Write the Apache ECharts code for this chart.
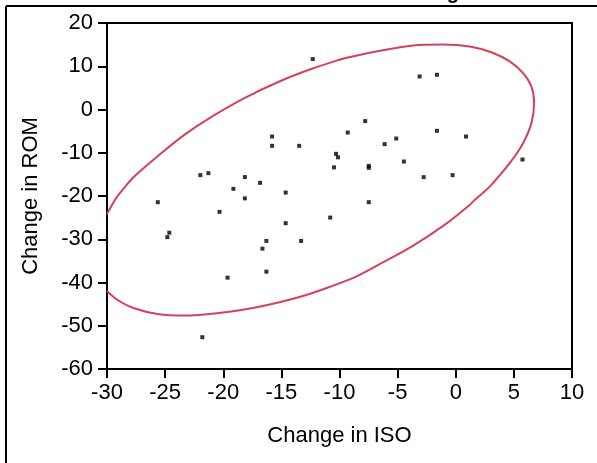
<!DOCTYPE html>
<html>
<head>
<meta charset="utf-8">
<script src="https://cdn.jsdelivr.net/npm/echarts@6/dist/echarts.min.js"></script>
<style>
html,body{margin:0;padding:0;background:#fff;}
#chart{width:597px;height:463px;}
</style>
</head>
<body>
<div id="chart"></div>
<script>
// Scatter points
var isoChange = [-12.30, -3.11, -1.62, -7.79, -9.29, -1.62, 0.88, -5.12, -6.12, -15.80,
  -15.80, -13.47, -10.30, -10.13, -10.47, -7.48, -7.48, -4.46, -2.76, -0.27,
  5.74, -7.48, -21.97, -21.28, -18.14, -16.83, -19.13, -14.63, -18.14, -25.63,
  -20.32, -14.63, -10.80, -24.64, -24.81, -16.29, -13.30, -16.63, -16.29, -19.63,
  -21.80];
var romChange = [11.66, 7.64, 8.03, -2.68, -5.32, -4.93, -6.25, -6.71, -8.01, -6.25,
  -8.40, -8.40, -10.25, -11.06, -13.38, -13.03, -13.49, -12.03, -15.64, -15.18,
  -11.57, -21.43, -15.18, -14.72, -15.62, -16.96, -18.35, -19.21, -20.55, -21.43,
  -23.67, -26.29, -24.99, -28.49, -29.51, -30.39, -30.39, -32.17, -37.49, -38.88,
  -52.65];

// Density ellipse outline (clockwise from left edge)
var ellipseIso = [-30.0, -29.23, -28.66, -27.66, -25.50, -23.35, -21.05, -18.18, -15.17, -12.44,
  -10.0, -9.28, -6.41, -3.69, -1.10, 1.20, 3.12, 4.64, 5.79, 6.51,
  6.74, 6.51, 5.79, 4.64, 3.20, 2.64, 1.63, 1.20, -0.96, -3.69,
  -6.27, -8.71, -10.86, -13.01, -15.17, -17.32, -19.47, -21.63, -23.20, -25.65,
  -27.66, -29.10, -30.0];
var ellipseRom = [-24.14, -20.55, -18.58, -15.51, -10.48, -5.86, -1.76, 2.64, 6.48, 9.35,
  11.50, 12.03, 13.65, 14.81, 15.04, 14.58, 13.19, 11.11, 8.42, 5.32,
  1.48, -3.15, -7.78, -12.40, -17.03, -18.58, -20.90, -22.06, -26.69, -31.54,
  -35.36, -38.83, -41.03, -43.00, -44.57, -45.82, -46.75, -47.40, -47.63, -47.28,
  -45.96, -44.04, -41.96];

var xTitle = 'Change in ISO';
var yTitle = 'Change in ROM';
var chartTitle = 'Bivariate Fit of Change';

var scatterData = isoChange.map(function(v, i){ return [v, romChange[i]]; });
var ellipseData = ellipseIso.map(function(v, i){ return [v, ellipseRom[i]]; });

var FONT = 'Liberation Sans, Arial, sans-serif';
var chart = echarts.init(document.getElementById('chart'), null, {renderer:'canvas'});
chart.setOption({
  backgroundColor: '#ffffff',
  animation: false,
  graphic: [
    {type:'line', shape:{x1:6, y1:6, x2:597, y2:6}, style:{stroke:'#000', lineWidth:2}, z:10},
    {type:'line', shape:{x1:6, y1:6, x2:6, y2:463}, style:{stroke:'#000', lineWidth:2}, z:10},
    {type:'text', x:470, y:3, style:{text:chartTitle, font:'bold 20px ' + FONT, fill:'#000', align:'right', verticalAlign:'bottom'}, z:10}
  ],
  grid: {left:107, right:25, top:23, bottom:94, show:true, borderColor:'#000', borderWidth:2, backgroundColor:'transparent'},
  xAxis: {
    type:'value', min:-30, max:10, interval:5,
    name: xTitle, nameLocation:'middle', nameGap:56,
    nameTextStyle:{fontFamily:FONT, fontSize:22, color:'#000'},
    axisLine:{show:true, onZero:false, lineStyle:{color:'#000', width:2}},
    axisTick:{show:true, inside:false, length:9, lineStyle:{color:'#000', width:2}},
    axisLabel:{fontFamily:FONT, fontSize:22, color:'#000', margin:13},
    splitLine:{show:false}
  },
  yAxis: {
    type:'value', min:-60, max:20, interval:10,
    name: yTitle, nameLocation:'middle', nameGap:65, nameRotate:90,
    nameTextStyle:{fontFamily:FONT, fontSize:22, color:'#000'},
    axisLine:{show:true, onZero:false, lineStyle:{color:'#000', width:2}},
    axisTick:{show:true, inside:false, length:9, lineStyle:{color:'#000', width:2}},
    axisLabel:{fontFamily:FONT, fontSize:22, color:'#000', margin:14},
    splitLine:{show:false}
  },
  series: [
    {
      type:'line', data:ellipseData, smooth:0.3, showSymbol:false, symbol:'none',
      lineStyle:{color:'#d4425a', width:2}, clip:true, z:2
    },
    {
      type:'scatter', data:scatterData, symbol:'rect', symbolSize:4,
      itemStyle:{color:'#000'}, z:3
    }
  ]
});
</script>
</body>
</html>
